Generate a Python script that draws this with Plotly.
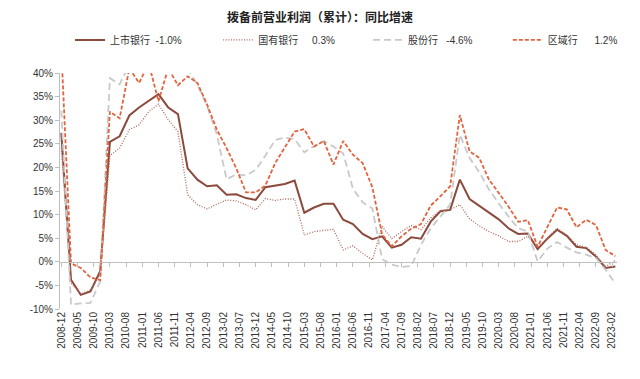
import plotly.graph_objects as go

# quarterly periods 2008-12 .. 2023-03
periods = []
y, mth = 2008, 12
while (y, mth) <= (2023, 3):
    periods.append(f"{y}-{mth:02d}")
    mth += 3
    if mth > 12:
        mth -= 12
        y += 1

listed = [27.3, -3.8, -7.0, -6.3, -2.0, 25.4, 26.6, 31.0, 32.7, 34.1, 35.5, 32.7, 31.3, 19.8, 17.4,
          16.0, 16.2, 14.2, 14.3, 13.5, 13.1, 15.8, 16.1, 16.5, 17.2, 10.4, 11.5, 12.3, 12.3, 8.9,
          8.0, 5.9, 4.8, 5.4, 3.0, 3.6, 5.2, 4.9, 8.5, 10.7, 11.0, 17.4, 13.3, 11.9, 10.5,
          9.0, 7.1, 5.9, 6.0, 2.7, 4.9, 6.8, 5.5, 3.2, 2.9, 1.1, -1.3, -1.0]
state = [24.0, -4.5, -6.8, -6.0, -2.5, 22.5, 24.1, 28.0, 29.0, 31.8, 33.4, 30.1, 27.6, 14.2, 12.1,
         11.2, 12.2, 13.1, 12.9, 12.1, 11.0, 13.4, 13.0, 13.3, 13.3, 5.7, 6.4, 6.6, 6.9, 2.5,
         3.4, 1.8, 0.4, 7.5, 4.9, 6.4, 7.7, 6.8, 9.3, 10.9, 11.0, 12.1, 9.1, 7.6, 6.4,
         5.5, 4.3, 4.3, 5.4, 3.0, 5.0, 7.1, 5.7, 3.6, 3.1, 1.5, -1.0, 0.3]
joint = [32.0, -9.1, -8.8, -8.7, -4.2, 38.9, 37.6, 42.0, 46.0, 44.0, 40.5, 44.0, 43.0, 41.0, 37.5,
         33.0, 27.0, 17.5, 18.5, 18.3, 19.5, 22.5, 25.8, 26.3, 26.0, 23.2, 24.5, 25.6, 24.4, 23.0,
         15.5, 12.6, 11.3, 0.6, -0.6, -1.1, -0.9, 3.6, 7.1, 9.6, 12.1, 26.9, 22.0, 19.0, 15.3,
         12.4, 9.6, 7.1, 6.4, 0.1, 2.8, 4.2, 3.0, 2.0, 1.5, 0.8, -1.7, -4.6]
regional = [45.0, -0.3, -1.3, -3.3, -3.9, 31.8, 30.4, 41.0, 37.9, 42.0, 34.0, 41.0, 37.4, 39.3, 37.9,
            33.3, 28.0, 24.1, 19.8, 14.7, 14.7, 16.2, 20.9, 24.4, 27.6, 28.1, 24.4, 25.6, 20.6, 25.6,
            22.7, 20.9, 15.8, 5.8, 3.3, 5.4, 7.0, 8.0, 11.9, 13.9, 16.0, 31.1, 23.4, 22.0, 17.4,
            14.6, 11.7, 8.5, 8.8, 3.2, 7.5, 11.5, 11.1, 7.3, 8.9, 7.8, 2.5, 1.2]

names = ["上市银行", "国有银行", "股份行", "区域行"]
latest = ["-1.0%", "0.3%", "-4.6%", "1.2%"]
gaps = [2, 5, 3, 6]

tick_labels = ["2008-12", "2009-05", "2009-10", "2010-03", "2010-08", "2011-01", "2011-06", "2011-11",
               "2012-04", "2012-09", "2013-02", "2013-07", "2013-12", "2014-05", "2014-10", "2015-03",
               "2015-08", "2016-01", "2016-06", "2016-11", "2017-04", "2017-09", "2018-02", "2018-07",
               "2018-12", "2019-05", "2019-10", "2020-03", "2020-08", "2021-01", "2021-06", "2021-11",
               "2022-04", "2022-09", "2023-02"]


def month_index(s):
    yy, mm = int(s[:4]), int(s[5:])
    return (yy - 2008) * 12 + (mm - 12)


xs = [month_index(p) for p in periods]
tickvals = [month_index(t) for t in tick_labels]

styles = [
    dict(color="#8B4A3C", width=2.0, dash="solid"),
    dict(color="#B0675A", width=1.3, dash="1px,1.6px"),
    dict(color="#C9C9C9", width=1.8, dash="7px,4px"),
    dict(color="#E2643F", width=1.8, dash="4px,2px"),
]
legend_ids = ["legend", "legend2", "legend3", "legend4"]
legend_x = [0.018, 0.284, 0.553, 0.804]

fig = go.Figure()
for name, val, g, series, st, lid in zip(names, latest, gaps, [listed, state, joint, regional],
                                          styles, legend_ids):
    fig.add_trace(go.Scatter(
        x=xs, y=series, mode="lines", name=name + "\u00a0" * g + val, legend=lid,
        line=dict(color=st["color"], width=st["width"], dash=st["dash"]),
        text=periods, hovertemplate="%{text}: %{y:.1f}%<extra>" + name + "</extra>",
    ))

# zero-line axis with ticks
fig.add_trace(go.Scatter(x=[xs[0]], y=[None], xaxis="x2", yaxis="y", showlegend=False,
                         hoverinfo="skip", mode="lines"))

legend_common = dict(orientation="h", xanchor="left", y=1.14, yanchor="middle",
                     font=dict(family="Liberation Sans, Noto Sans CJK SC", size=10, color="#333333"),
                     itemwidth=30, bgcolor="rgba(0,0,0,0)")

xr = [-0.4, 171.5]
layout = dict(
    width=640, height=379,
    margin=dict(l=60, r=23, t=73, b=70, autoexpand=False),
    paper_bgcolor="white", plot_bgcolor="white",
    font=dict(family="Liberation Sans, Arial, Noto Sans CJK SC", size=10, color="#333333"),
    title=dict(text="<b>拨备前营业利润（累计）：同比增速</b>", x=0.5, xanchor="center",
               y=0.953, yanchor="middle",
               font=dict(family="Noto Sans CJK SC", size=12, color="#222222")),
    showlegend=True,
    xaxis=dict(range=xr, tickvals=tickvals, ticktext=tick_labels, tickangle=-90,
               showline=False, showgrid=False, zeroline=False, ticks="",
               tickfont=dict(size=10, color="#333333")),
    xaxis2=dict(range=xr, overlaying="x", anchor="free", position=0.2, side="bottom",
                tickvals=tickvals, showticklabels=False, ticks="outside", ticklen=4,
                tickcolor="#BFBFBF", showline=True, linecolor="#BFBFBF", linewidth=1,
                showgrid=False, zeroline=False),
    yaxis=dict(range=[-10, 40], tickvals=[-10, -5, 0, 5, 10, 15, 20, 25, 30, 35, 40],
               ticktext=["-10%", "-5%", "0%", "5%", "10%", "15%", "20%", "25%", "30%", "35%", "40%"],
               showline=True, linecolor="#BFBFBF", linewidth=1, ticks="outside", ticklen=4,
               tickcolor="#BFBFBF", showgrid=False, zeroline=False,
               tickfont=dict(size=10, color="#333333")),
)
for lid, lx in zip(legend_ids, legend_x):
    layout[lid] = dict(x=lx, **legend_common)
fig.update_layout(**layout)

fig.write_html("out.html", config={"displayModeBar": False},
               post_script="document.body.style.margin='0';document.body.style.overflow='hidden';")
